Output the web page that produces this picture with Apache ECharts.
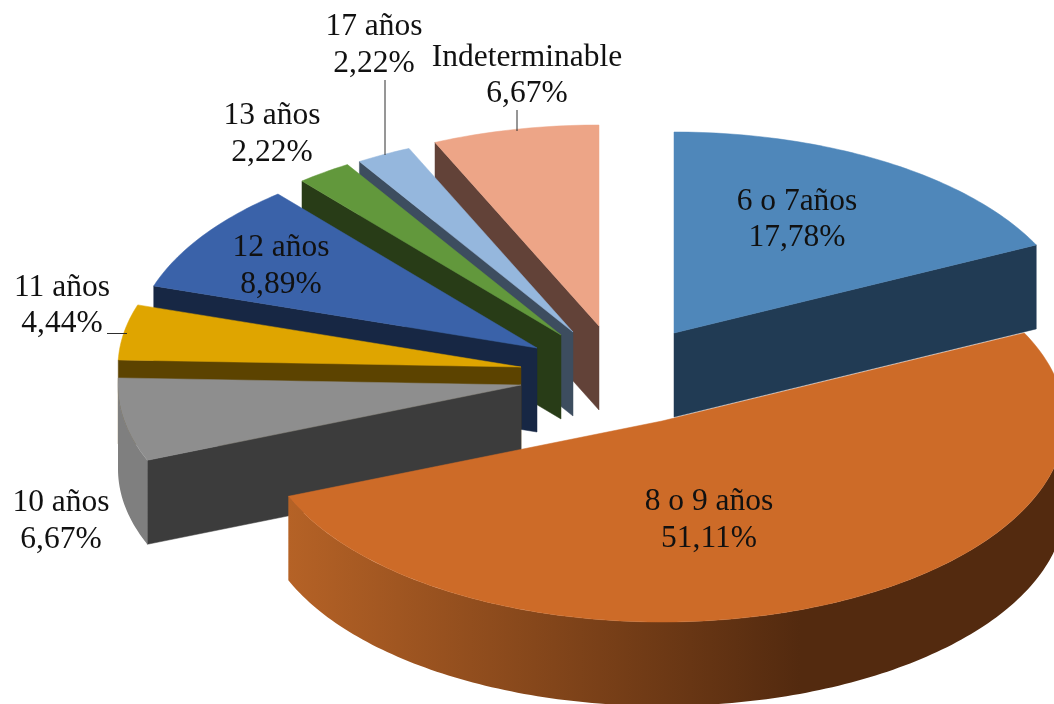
<!DOCTYPE html>
<html>
<head>
<meta charset="utf-8">
<script src="https://cdn.jsdelivr.net/npm/echarts@6/dist/echarts.min.js"></script>
<style>html,body{margin:0;padding:0;background:#fff;overflow:hidden}#c{width:1054px;height:704px}</style>
</head>
<body>
<div id="c"></div>
<script>
// Data
var categories = ['6 o 7años', '8 o 9 años', '10 años', '11 años', '12 años', '13 años', '17 años', 'Indeterminable'];
var percentages = [17.78, 51.11, 6.67, 4.44, 8.89, 2.22, 2.22, 6.67];

// Styles
var topColors   = ['#4f87ba', '#cd6b28', '#8e8e8e', '#dfa500', '#3a62a9', '#62983c', '#95b7dd', '#eda587'];
var sideColors  = ['#213b54', '#532a0f', '#3c3c3c', '#5c4300', '#172744', '#283c17', '#3d4d5f', '#624238'];
var rimFrom     = ['#213b54', '#b56226', '#7f7f7f', '#5c4300', '#172744', '#283c17', '#3d4d5f', '#624238'];
var rimTo       = ['#213b54', '#532a0f', '#7f7f7f', '#5c4300', '#172744', '#283c17', '#3d4d5f', '#624238'];
var layerOrder  = [8, 7, 6, 5, 4, 3, 2, 1];

// Layout: projected pie, each slice pulled out from the centre on its own
var radiusX = 403, radiusY = 201, depth = 84;
var slicePivotX = [674, 662, 521, 521, 537, 561, 573, 599];
var slicePivotY = [333, 421, 385, 367, 348, 335, 332, 326];
var labelX = [797, 709, 61, 62, 281, 272, 374, 527];
var labelY = [219.5, 520, 521, 305.5, 266, 134, 45, 75.5];
var leaders = {3: [107, 333.5, 127, 333.5], 6: [385, 80, 385, 155], 7: [517, 110, 517, 131]};

var total = percentages.reduce(function (a, b) { return a + b; }, 0);
var startAngles = [];
percentages.reduce(function (acc, v, i) { startAngles[i] = acc; return acc + v / total * 360; }, 0);

function pt(i, deg, drop) {
  var r = deg * Math.PI / 180;
  return [slicePivotX[i] + radiusX * Math.sin(r), slicePivotY[i] - radiusY * Math.cos(r) + (drop || 0)];
}

function renderSlice(params, api) {
  var i = params.dataIndex;
  var value = api.value(0);
  var a0 = startAngles[i], a1 = a0 + value / total * 360;
  var z = layerOrder[i] * 10;
  var px = slicePivotX[i], py = slicePivotY[i];
  var children = [];

  function addRadialWall(deg) {
    var e = pt(i, deg);
    children.push({type: 'polygon', z2: z, silent: true,
      shape: {points: [[px, py], e, [e[0], e[1] + depth], [px, py + depth]]},
      style: {fill: sideColors[i], stroke: sideColors[i], lineWidth: 0.5}});
  }
  if (a0 > 180) addRadialWall(a0);
  if (a1 < 180) addRadialWall(a1);

  // outer rim, front half only
  var r0 = Math.max(a0, 90), r1 = Math.min(a1, 270);
  if (r1 > r0) {
    var upper = [], lower = [], d;
    for (d = r0; d <= r1; d += 1) { upper.push(pt(i, d)); lower.unshift(pt(i, d, depth)); }
    upper.push(pt(i, r1)); lower.unshift(pt(i, r1, depth));
    var isLarge = rimFrom[i] !== rimTo[i];
    children.push({type: 'polygon', z2: z + 1, silent: true,
      shape: {points: upper.concat(lower)},
      style: {fill: isLarge ? {type: 'linear', x: 288, y: 0, x2: 800, y2: 0, global: true,
        colorStops: [{offset: 0, color: rimFrom[i]}, {offset: 1, color: rimTo[i]}]} : rimFrom[i]}});
  }

  // top face
  var face = [[px, py]], a;
  for (a = a0; a < a1; a += 1) face.push(pt(i, a));
  face.push(pt(i, a1));
  children.push({type: 'polygon', z2: z + 2, silent: true, shape: {points: face},
    style: {fill: topColors[i], stroke: topColors[i], lineWidth: 0.5}});

  // leader line
  if (leaders[i]) {
    var L = leaders[i];
    children.push({type: 'line', z2: 200, silent: true,
      shape: {x1: L[0], y1: L[1], x2: L[2], y2: L[3]},
      style: {stroke: '#2e2e2e', lineWidth: 1}});
  }
  // label
  children.push({type: 'text', z2: 300, silent: true,
    style: {text: categories[i] + '\n' + value.toFixed(2).replace('.', ',') + '%',
      x: labelX[i], y: labelY[i], fill: '#111111', align: 'center', verticalAlign: 'middle',
      fontFamily: '"Liberation Serif", serif', fontSize: 31.5, lineHeight: 36.5}});
  return {type: 'group', children: children};
}

var chart = echarts.init(document.getElementById('c'), null, {renderer: 'canvas'});
chart.setOption({
  animation: false,
  backgroundColor: '#ffffff',
  series: [{
    type: 'custom',
    coordinateSystem: 'none',
    renderItem: renderSlice,
    data: percentages.map(function (v) { return [v]; }),
    silent: true
  }]
});
</script>
</body>
</html>
